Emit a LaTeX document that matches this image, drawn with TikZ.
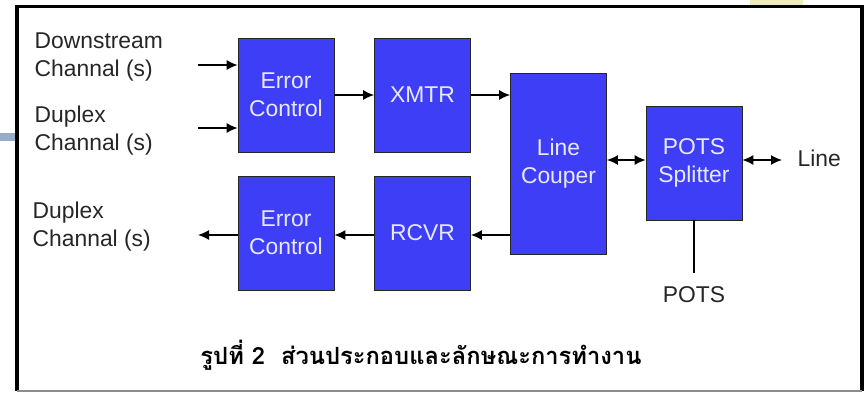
\documentclass[tikz,border=0pt]{standalone}
\usepackage{fontspec}
\setmainfont{Liberation Sans}
\newfontfamily\thaifont[Script=Thai]{Loma}
\usetikzlibrary{arrows.meta, positioning, calc}

\definecolor{blockblue}{RGB}{62,62,246}
\definecolor{blocktext}{RGB}{232,232,255}
\definecolor{slidebar}{RGB}{150,172,204}
\definecolor{slideyellow}{RGB}{236,236,188}

\begin{document}
\begin{tikzpicture}[
    font=\fontsize{13}{16}\selectfont,
    block node/.style={
        rectangle,
        draw=black!85,
        fill=blockblue,
        minimum width=1.92cm,
        minimum height=2.28cm,
        inner sep=0pt,
        align=center,
        text=blocktext
    },
    side label/.style={
        anchor=west,
        align=left,
        text=black!85
    },
    sig arrow/.style={
        line width=0.8pt,
        -{Latex[length=2.2mm, width=2mm]}
    },
    both arrow/.style={
        line width=0.8pt,
        {Latex[length=2.2mm, width=2mm]}-{Latex[length=2.2mm, width=2mm]}
    }
]
    \useasboundingbox (0,0) rectangle (17.3,7.84);

    % --- slide leftovers and frame ---
    \fill[slidebar] (0,5.02) rectangle (0.33,5.18);
    \fill[slideyellow] (15.0,7.74) rectangle (16.06,7.84);
    \draw[line width=2pt] (0.34,0.03) -- (0.34,7.71) -- (17.24,7.71) -- (17.24,0.03);
    \draw[black!45, line width=0.6pt] (0.34,0.02) -- (17.24,0.02);

    % --- blocks ---
    \node[block node] (ecup) at (5.72,5.94) {Error\\Control};
    \node[block node] (xmtr) at (8.45,5.94) {XMTR};
    \node[block node, minimum height=3.62cm] (couper) at (11.17,4.57) {Line\\Couper};
    \node[block node] (splitter) at (13.88,4.58) {POTS\\Splitter};
    \node[block node] (ecdown) at (5.72,3.18) {Error\\Control};
    \node[block node] (rcvr) at (8.45,3.18) {RCVR};

    % --- labels ---
    \node[side label] (downin) at (0.57,6.7) {Downstream\\Channal (s)};
    \node[side label] (duplexin) at (0.57,5.22) {Duplex\\Channal (s)};
    \node[side label] (duplexout) at (0.53,3.3) {Duplex\\Channal (s)};
    \node[side label, anchor=west] (line) at (15.83,4.68) {Line};
    \node[text=black!85] (pots) at (13.88,1.94) {POTS};

    \coordinate (downtail) at (3.96,6.54);
    \coordinate (duplextail) at (3.96,5.28);
    \coordinate (outhead) at (3.96,3.14);
    \coordinate (linehead) at (15.64,4.64);
    \coordinate (potsend) at (13.88,2.38);

    % --- transmit path ---
    \draw[sig arrow] (downtail) -- (downtail -| ecup.west);
    \draw[sig arrow] (duplextail) -- (duplextail -| ecup.west);
    \draw[sig arrow] (ecup) -- (xmtr);
    \draw[sig arrow] (xmtr.east) -- (xmtr.east -| couper.west);

    % --- receive path ---
    \draw[sig arrow] (couper.west |- 0,3.14) -- (rcvr.east |- 0,3.14);
    \draw[sig arrow] (rcvr.west |- 0,3.14) -- (ecdown.east |- 0,3.14);
    \draw[sig arrow] (ecdown.west |- outhead) -- (outhead);

    % --- line side ---
    \draw[both arrow] (couper.east |- linehead) -- (splitter.west |- linehead);
    \draw[both arrow] (splitter.east |- linehead) -- (linehead);
    \draw[line width=0.6pt] (splitter.south) -- (potsend);

    \node[font=\thaifont\bfseries\fontsize{13.5}{16}\selectfont] (caption) at (8.42,0.74)
        {รูปที่ 2\ \ ส่วนประกอบและลักษณะการทำงาน};

\end{tikzpicture}
\end{document}
